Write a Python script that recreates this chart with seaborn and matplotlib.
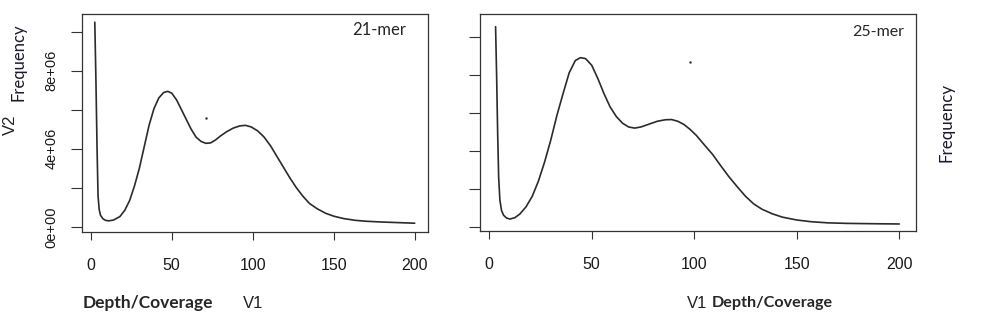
# k-mer depth/coverage profiles, 21-mer and 25-mer
import numpy as np
import pandas as pd
import matplotlib
matplotlib.use("Agg")
import matplotlib.pyplot as plt
import seaborn as sns

# Data (Frequency in millions)
depth_21 = [2.5, 3.2, 3.9, 4.5, 5.2, 6.0, 7.5, 9, 11, 14, 18, 21, 24, 27, 30, 33, 36, 39, 42, 45,
            47.5, 50, 53, 56, 59, 62, 65, 68, 71, 74, 77, 80, 84, 88, 92, 95.5, 99, 103, 107, 111,
            115, 119, 123, 127, 131, 135, 140, 145, 150, 156, 163, 170, 180, 190, 200]
freq_21 = [10.48, 7.5, 4.0, 1.6, 0.9, 0.6, 0.42, 0.34, 0.31, 0.35, 0.53, 0.85, 1.35, 2.1, 3.0, 4.1,
           5.2, 6.05, 6.6, 6.88, 6.94, 6.85, 6.5, 6.0, 5.5, 5.0, 4.6, 4.38, 4.28, 4.3, 4.45, 4.65,
           4.88, 5.06, 5.17, 5.2, 5.12, 4.92, 4.6, 4.15, 3.6, 3.05, 2.5, 2.0, 1.57, 1.2, 0.92, 0.7,
           0.55, 0.43, 0.34, 0.29, 0.25, 0.22, 0.19]

depth_25 = [3.1, 3.6, 4.1, 4.6, 5.2, 6, 7, 8.5, 10.1, 12.5, 15, 18, 21, 24, 27, 30, 33, 36, 39, 42,
            44.5, 47, 50, 53, 56, 59, 62, 65, 68, 71, 74, 78, 82, 86, 89, 92, 95, 98, 101, 105,
            109, 113, 117, 121, 125, 129, 133, 138, 143, 150, 157, 165, 175, 190, 200]
freq_25 = [10.53, 8.0, 5.0, 2.6, 1.4, 0.85, 0.6, 0.45, 0.4, 0.47, 0.67, 1.05, 1.6, 2.4, 3.4, 4.55,
           5.85, 7.0, 8.1, 8.75, 8.9, 8.85, 8.5, 7.8, 7.0, 6.3, 5.8, 5.45, 5.25, 5.19, 5.25, 5.4,
           5.55, 5.63, 5.64, 5.55, 5.38, 5.12, 4.81, 4.3, 3.8, 3.2, 2.62, 2.1, 1.6, 1.2, 0.92,
           0.68, 0.5, 0.35, 0.26, 0.2, 0.17, 0.15, 0.14]

# stray points
dot_21 = (71, 5.59)
dot_25 = (97.8, 8.69)

ytick_vals = [0, 2e6, 4e6, 6e6, 8e6, 10e6]
ytick_labels = ["0e+00", "", "4e+06", "", "8e+06", ""]
xtick_vals = [0, 50, 100, 150, 200]

sns.set_style("ticks")
plt.rcParams["font.family"] = ["Liberation Sans", "DejaVu Sans"]

W, H = 1000, 324
fig = plt.figure(figsize=(10, 3.24), dpi=100)


def px_axes(x0, y0, x1, y1):
    return fig.add_axes([x0 / W, 1 - y1 / H, (x1 - x0) / W, (y1 - y0) / H])


ax1 = px_axes(82, 14, 428, 232)
ax2 = px_axes(480, 14, 916, 231)

line_col = "#2b2b2b"
panels = [
    (ax1, depth_21, freq_21, dot_21, (-5.4, 208.2), (-0.26e6, 10.9e6), ytick_labels),
    (ax2, depth_25, freq_25, dot_25, (-4.5, 208.2), (-0.23e6, 11.2e6), [""] * 6),
]
for ax, xs, ys, dot, xl, yl, ylabs in panels:
    df = pd.DataFrame({"V1": xs, "V2": np.array(ys) * 1e6})
    sns.lineplot(data=df, x="V1", y="V2", ax=ax, color=line_col, linewidth=1.2)
    sns.scatterplot(x=[dot[0]], y=[dot[1] * 1e6], ax=ax, color=line_col, s=3, linewidth=0)
    ax.set_xlim(*xl)
    ax.set_ylim(*yl)
    ax.set_xlabel("")
    ax.set_ylabel("")
    ax.set_xticks(xtick_vals)
    ax.set_xticklabels([str(v) for v in xtick_vals], fontsize=11.5)
    ax.set_yticks(ytick_vals)
    ax.set_yticklabels(ylabs, rotation=90, va="center", fontsize=10.5)
    ax.tick_params(axis="x", bottom=True, direction="out", length=6, width=0.8, pad=13,
                   color="#333333", labelcolor="#1a1a1a")
    ax.tick_params(axis="y", left=True, direction="out", length=8, width=0.8, pad=9,
                   color="#333333", labelcolor="#1a1a1a")
    for s in ax.spines.values():
        s.set_visible(True)
        s.set_color("#333333")
        s.set_linewidth(0.9)

calibri_like = ["Lato", "DejaVu Sans"]
fig.text(379 / W, 1 - 30 / H, "21-mer", fontsize=12, family=calibri_like, ha="center", va="center")
fig.text(878 / W, 1 - 32 / H, "25-mer", fontsize=11.5, family=calibri_like, ha="center", va="center")

# side labels
fig.text(10 / W, 1 - 125 / H, "V2", fontsize=12, rotation=90, ha="center", va="center", color="#222222")
fig.text(19 / W, 1 - 62 / H, "Frequency", fontsize=12, rotation=90, ha="center", va="center",
         family=calibri_like, color="#1a1a2e")
fig.text(947 / W, 1 - 122 / H, "Frequency", fontsize=12.2, rotation=90, ha="center", va="center",
         family=calibri_like, color="#1a1a2e")

# bottom labels
fig.text(148 / W, 1 - 303 / H, "Depth/Coverage", fontsize=12.5, fontweight="bold",
         family=calibri_like, ha="center", va="center")
fig.text(253 / W, 1 - 303 / H, "V1", fontsize=12, ha="center", va="center", color="#222222")
fig.text(697 / W, 1 - 303 / H, "V1", fontsize=12, ha="center", va="center", color="#222222")
fig.text(772 / W, 1 - 303 / H, "Depth/Coverage", fontsize=11.6, fontweight="bold",
         family=calibri_like, ha="center", va="center")

fig.savefig("out.png", dpi=100, facecolor="white")
plt.close()
